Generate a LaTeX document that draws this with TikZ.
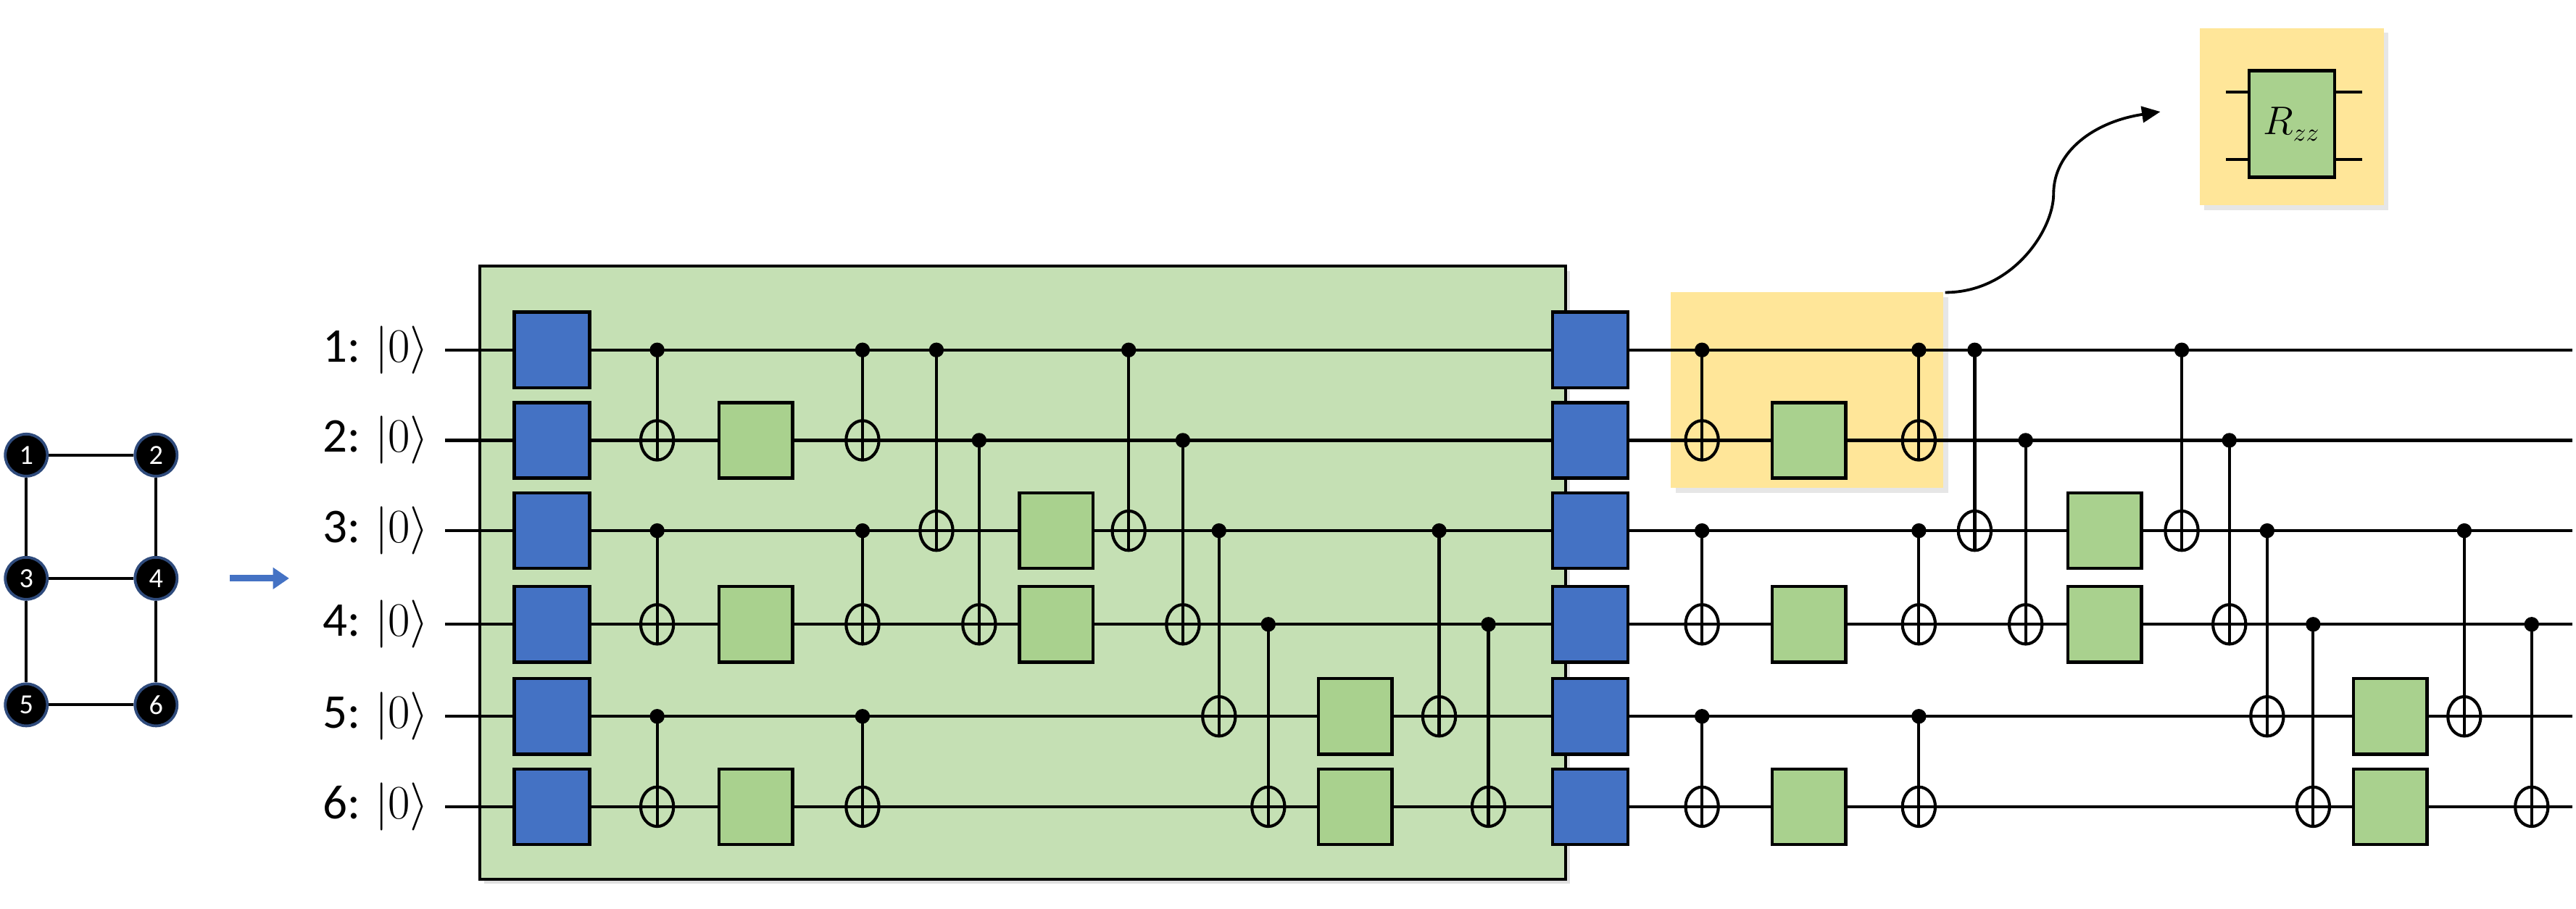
\documentclass[tikz,border=0pt]{standalone}
\usepackage{fontspec}
\setmainfont{Carlito}
\usetikzlibrary{shadows,arrows.meta}
\definecolor{gblue}{HTML}{4472C4}
\definecolor{ggreen}{HTML}{A9D18E}
\definecolor{bggreen}{HTML}{C5E0B4}
\definecolor{yel}{HTML}{FFE699}
\definecolor{nodeb}{HTML}{2F4B7C}
\def\wy{{0,213,268,323,380,436,491}}
\newcommand{\mycnot}[3]{%
  \pgfmathsetmacro\myya{\wy[#2]}\pgfmathsetmacro\myyb{\wy[#3]}%
  \draw[wire] (#1,\myya) -- (#1,\myyb+12);
  \fill (#1,\myya) circle[radius=4.5];
  \draw[wire] (#1,\myyb) ellipse[x radius=10,y radius=12];}
\newcommand{\mygate}[3]{% style, x, wire
  \pgfmathsetmacro\myya{\wy[#3]}%
  \node[#1] at (#2,\myya) {};}
\begin{document}
\begin{tikzpicture}[x=0.025cm,y=-0.025cm,
  wire/.style={line width=1.3pt},
  bgate/.style={draw,line width=1.4pt,fill=gblue,minimum width=1.15cm,minimum height=1.15cm,inner sep=0},
  ggate/.style={draw,line width=1.4pt,fill=ggreen,minimum width=1.12cm,minimum height=1.15cm,inner sep=0},
  gnode/.style={circle,fill=black,draw=nodeb,line width=1.2pt,minimum size=0.64cm,inner sep=0,text=white,font=\fontsize{12}{12}\selectfont},
  lab/.style={anchor=east,font=\fontsize{21}{21}\selectfont}]
\useasboundingbox (0,0) rectangle (1568,553);
% graph
\node[gnode] (n1) at (16,277) {1};
\node[gnode] (n2) at (95,277) {2};
\node[gnode] (n3) at (16,352) {3};
\node[gnode] (n4) at (95,352) {4};
\node[gnode] (n5) at (16,429) {5};
\node[gnode] (n6) at (95,429) {6};
\begin{scope}[on background layer/.style={}]
\draw[line width=1.3pt] (n1)--(n2) (n3)--(n4) (n5)--(n6) (n1)--(n3) (n3)--(n5) (n2)--(n4) (n4)--(n6);
\end{scope}
\coordinate (aa) at (140,352); \coordinate (ab) at (176,352);
\draw[gblue,line width=2.8pt,-{Triangle[length=7pt,width=9pt]}] (aa)--(ab);
% backgrounds
\fill[bggreen,drop shadow={opacity=0.25,shadow xshift=2pt,shadow yshift=-2pt}] (292,162) rectangle (953,535);
\draw[line width=1.2pt] (292,162) rectangle (953,535);
\fill[yel,drop shadow={opacity=0.2,shadow xshift=2pt,shadow yshift=-2pt}] (1017,178) rectangle (1183,297);
\coordinate (ys) at (1184,178);
% labels and wires
\foreach \i in {1,...,6}{
  \pgfmathsetmacro\yy{\wy[\i]}
  \node[lab] (l\i) at (266,\yy) {\i: $|0\rangle$};
  \draw[wire] (271,\yy) -- (1566,\yy);
}
% first block
\foreach \i in {1,...,6}{\mygate{bgate}{336}{\i}}
\mycnot{400}{1}{2}\mycnot{400}{3}{4}\mycnot{400}{5}{6}
\mygate{ggate}{460}{2}\mygate{ggate}{460}{4}\mygate{ggate}{460}{6}
\mycnot{525}{1}{2}\mycnot{525}{3}{4}\mycnot{525}{5}{6}
\mycnot{570}{1}{3}\mycnot{596}{2}{4}
\mygate{ggate}{643}{3}\mygate{ggate}{643}{4}
\mycnot{687}{1}{3}\mycnot{720}{2}{4}
\mycnot{742}{3}{5}\mycnot{772}{4}{6}
\mygate{ggate}{825}{5}\mygate{ggate}{825}{6}
\mycnot{876}{3}{5}\mycnot{906}{4}{6}
% second block
\foreach \i in {1,...,6}{\mygate{bgate}{968}{\i}}
\mycnot{1036}{1}{2}\mycnot{1036}{3}{4}\mycnot{1036}{5}{6}
\mygate{ggate}{1101}{2}\mygate{ggate}{1101}{4}\mygate{ggate}{1101}{6}
\mycnot{1168}{1}{2}\mycnot{1168}{3}{4}\mycnot{1168}{5}{6}
\mycnot{1202}{1}{3}\mycnot{1233}{2}{4}
\mygate{ggate}{1281}{3}\mygate{ggate}{1281}{4}
\mycnot{1328}{1}{3}\mycnot{1357}{2}{4}
\mycnot{1380}{3}{5}\mycnot{1408}{4}{6}
\mygate{ggate}{1455}{5}\mygate{ggate}{1455}{6}
\mycnot{1500}{3}{5}\mycnot{1541}{4}{6}
% Rzz inset
\fill[yel,drop shadow={opacity=0.2,shadow xshift=2pt,shadow yshift=-2pt}] (1339,17) rectangle (1451,125);
\draw[wire] (1355,56)--(1438,56) (1355,97)--(1438,97);
\node[draw,line width=1.4pt,fill=ggreen,minimum width=1.3cm,minimum height=1.62cm,inner sep=0,font=\fontsize{16}{16}\selectfont] (rzz) at (1395,75.5) {$R_{zz}$};
\coordinate (at) at (1315,68);
\draw[line width=1.2pt,-{Triangle[length=8pt,width=7pt]}] (ys) .. controls (1225,178) and (1250,140) .. (1250,118) .. controls (1250,92) and (1275,74) .. (at);
\end{tikzpicture}
\end{document}
